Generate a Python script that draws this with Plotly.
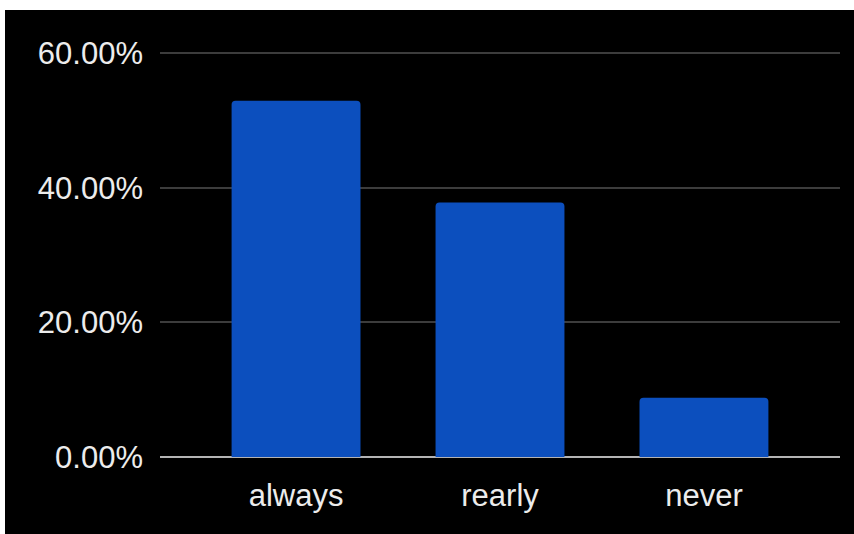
import plotly.graph_objects as go

# Share of respondents per answer
categories = ["always", "rearly", "never"]
shares = [52.9, 37.8, 8.8]
tick_values = [0, 20, 40, 60]
tick_labels = ["0.00%", "20.00%", "40.00%", "60.00%"]

W, H = 854, 534
ml, mr, mt, mb = 160, 14, 46, 77
pw, ph = W - ml - mr, H - mt - mb
y_top = 61.04

fig = go.Figure(
    go.Bar(
        x=categories,
        y=shares,
        marker=dict(color="#0c4fbe", line=dict(width=0), cornerradius=4),
        width=0.632,
        hoverinfo="skip",
    )
)

font = dict(family="Liberation Sans, Arial, sans-serif", size=31, color="#ececec")

fig.update_layout(
    width=W,
    height=H,
    margin=dict(l=ml, r=mr, t=mt, b=mb),
    paper_bgcolor="white",
    plot_bgcolor="rgba(0,0,0,0)",
    showlegend=False,
    font=font,
    shapes=[
        # dark card behind the chart
        dict(
            type="rect", xref="paper", yref="paper", layer="below",
            x0=(5 - ml) / pw, x1=(W - ml) / pw,
            y0=(mt + ph - H) / ph, y1=(mt + ph - 10) / ph,
            fillcolor="black", line=dict(width=0),
        )
    ],
    xaxis=dict(
        range=[-0.667, 2.667],
        showgrid=False,
        zeroline=False,
        showline=False,
        ticks="",
        tickfont=font,
        ticklabelstandoff=17,
    ),
    yaxis=dict(
        range=[0, y_top],
        tickvals=tick_values,
        ticktext=tick_labels,
        showgrid=True,
        gridcolor="#3c3c3c",
        gridwidth=1.5,
        zeroline=True,
        zerolinecolor="#b4b4b4",
        zerolinewidth=2,
        showline=False,
        ticks="",
        tickfont=font,
        ticklabelstandoff=16,
    ),
)

fig.write_html("out.html")
